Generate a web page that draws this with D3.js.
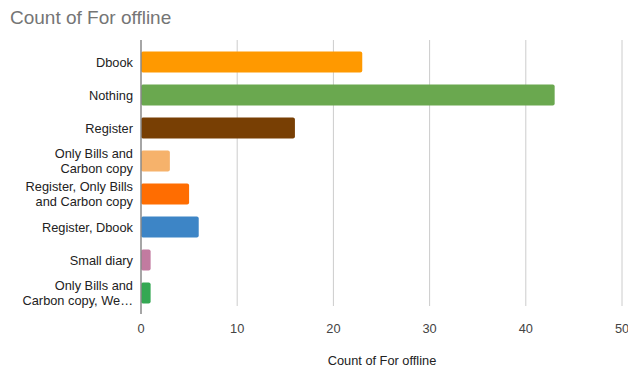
<!DOCTYPE html>
<html>
<head>
<meta charset="utf-8">
<script src="https://cdn.jsdelivr.net/npm/d3@7"></script>
<style>
  body { margin: 0; background: #fff; }
  text { font-family: "Liberation Sans", Arial, sans-serif; }
</style>
</head>
<body>
<div id="chart"></div>
<script>
// data
let categories = [
    ["Dbook"],
    ["Nothing"],
    ["Register"],
    ["Only Bills and", "Carbon copy"],
    ["Register, Only Bills", "and Carbon copy"],
    ["Register, Dbook"],
    ["Small diary"],
    ["Only Bills and", "Carbon copy, We\u2026"]
];
let counts = [23, 43, 16, 3, 5, 6, 1, 1];
let barColors = ["#ff9900", "#6aa84f", "#783f04", "#f6b26b", "#ff6d01", "#3d85c6", "#c27ba0", "#34a853"];
let xTicks = [0, 10, 20, 30, 40, 50];

let svgWidth = 628;
let svgHeight = 371;

let svg = d3.select("#chart")
    .append("svg")
    .attr("width", svgWidth)
    .attr("height", svgHeight);

// title
svg.append("text")
    .attr("x", 10)
    .attr("y", 24)
    .attr("font-size", 19)
    .attr("fill", "#757575")
    .text("Count of For offline");

let plotLeft = 141, plotRight = 622, plotTop = 40, plotBottom = 306;

let xScale = d3.scaleLinear().domain([0, 50]).range([plotLeft, plotRight]);
let yScale = d3.scaleBand()
    .domain(d3.range(categories.length))
    .range([45.5, 309.5])
    .paddingInner(0.36)
    .paddingOuter(0.18);

// gridlines
svg.append("g")
    .selectAll("line")
    .data(xTicks.filter(d => d > 0))
    .enter()
    .append("line")
    .attr("x1", d => xScale(d))
    .attr("x2", d => xScale(d))
    .attr("y1", plotTop)
    .attr("y2", plotBottom)
    .attr("stroke", "#cccccc")
    .attr("stroke-width", 1);

// bars
svg.append("g")
    .selectAll("rect")
    .data(counts)
    .enter()
    .append("rect")
    .attr("x", xScale(0))
    .attr("y", (d, i) => yScale(i))
    .attr("width", d => xScale(d) - xScale(0))
    .attr("height", yScale.bandwidth())
    .attr("rx", 2)
    .attr("fill", (d, i) => barColors[i]);

// zero axis line
svg.append("line")
    .attr("x1", xScale(0))
    .attr("x2", xScale(0))
    .attr("y1", plotTop)
    .attr("y2", 314)
    .attr("stroke", "#888888")
    .attr("stroke-width", 1.5);

// category labels
let labelGroup = svg.append("g");
categories.forEach(function(lines, i) {
    let cy = yScale(i) + yScale.bandwidth() / 2;
    let t = labelGroup.append("text")
        .attr("text-anchor", "end")
        .attr("font-size", 12.8)
        .attr("fill", "#222222");
    lines.forEach(function(line, j) {
        t.append("tspan")
            .attr("x", 133)
            .attr("y", cy + 4.5 + (j - (lines.length - 1) / 2) * 14.5)
            .text(line);
    });
});

// x tick labels
svg.append("g")
    .selectAll("text")
    .data(xTicks)
    .enter()
    .append("text")
    .attr("x", d => xScale(d))
    .attr("y", 333)
    .attr("text-anchor", "middle")
    .attr("font-size", 12.8)
    .attr("fill", "#444444")
    .text(d => d);

// axis title
svg.append("text")
    .attr("x", (plotLeft + plotRight) / 2 + 0.5)
    .attr("y", 365)
    .attr("text-anchor", "middle")
    .attr("font-size", 12.8)
    .attr("fill", "#222222")
    .text("Count of For offline");
</script>
</body>
</html>
